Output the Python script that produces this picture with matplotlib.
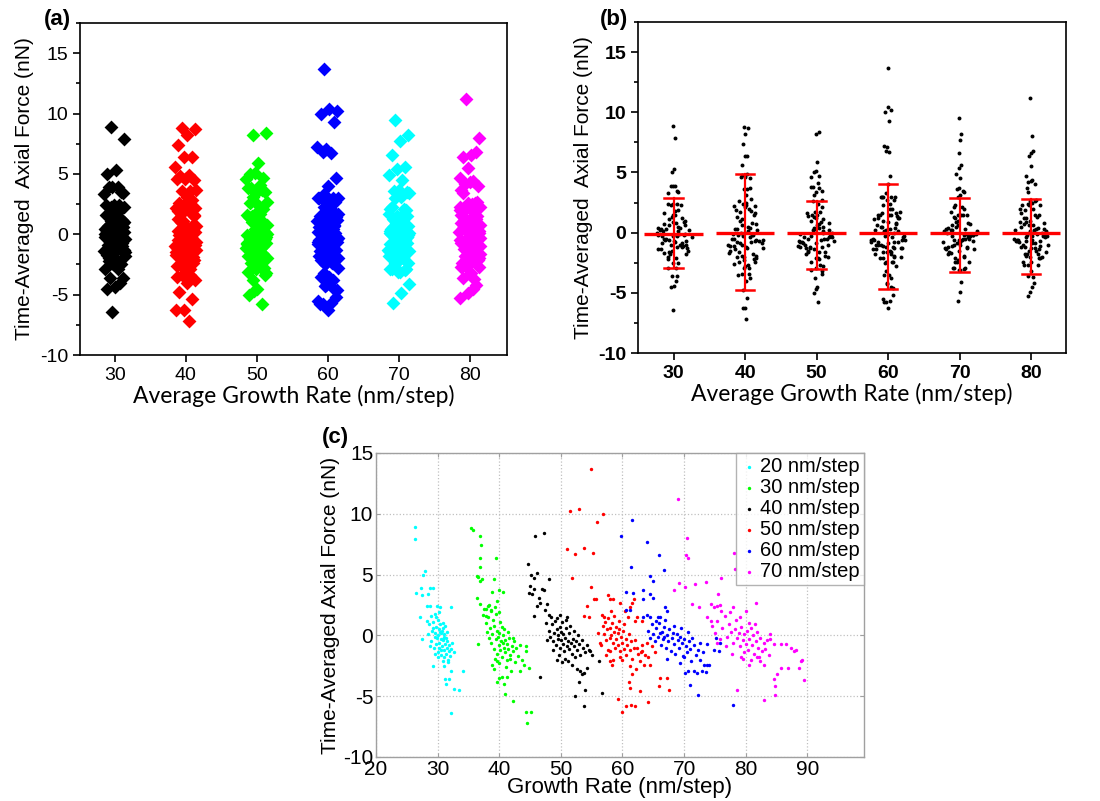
import numpy as np
import matplotlib
matplotlib.use("Agg")
from matplotlib import pyplot as plt
from matplotlib.ticker import MultipleLocator

plt.rcParams["axes.unicode_minus"] = False

# growth rate (x, panel c) and time-averaged axial force (y) for each imposed rate
x20 = [26.4, 26.3, 28.0, 27.7, 26.5, 27.3, 27.5, 28.7, 29.2, 28.4, 28.3, 28.8, 29.9, 30.4, 32.1, 27.1, 27.4,
       29.2, 31.0, 32.1, 34.1, 31.2, 31.8, 32.6, 33.4, 31.4, 32.1, 30.0, 30.9, 31.7,
       28.2, 28.6, 28.9, 29.1, 29.3, 29.5, 29.6, 29.8, 29.9, 30.0, 30.1, 30.2, 30.3, 30.4, 30.5, 30.6, 30.7,
       30.8, 30.9, 31.0, 31.1, 31.2, 31.3, 31.4, 31.5, 31.6, 31.8, 31.9, 32.0, 32.2, 32.4, 32.6, 28.5, 29.0,
       29.4, 29.7, 30.0, 30.3, 30.6, 30.9, 31.2, 28.8, 29.6, 30.2, 30.7, 31.0, 31.5, 29.2, 29.8, 30.4, 30.5,
       31.1, 29.5, 30.8, 31.7]
y20 = [8.9, 7.9, 5.3, 5.0, 3.5, 3.9, 3.3, 3.9, 3.9, 3.4, 2.4, 2.4, 2.4, 2.3, 2.3, 1.5, -0.3,
       -2.5, -2.5, -2.9, -2.9, -3.6, -3.6, -4.4, -4.5, -4.0, -6.4, -1.8, -2.1, -2.0,
       1.2, 0.9, 1.6, 0.4, 1.1, 0.2, 1.8, 0.7, -0.2, 1.3, 0.0, 0.5, -0.6, 0.9, -0.3, 0.2, -0.9,
       0.6, -0.4, -1.2, 0.1, -0.7, -1.5, -0.2, -1.0, -0.5, -1.3, -0.8, -1.7, -1.1, -0.6, -1.4, 0.1, -0.5,
       -1.0, 1.5, -1.4, 1.9, -1.6, 1.0, 0.8, -0.9, -0.1, -1.0, 0.4, -0.1, 0.3, 0.6, -0.7, 0.3, -1.2,
       -1.8, -1.5, -0.3, -2.2]

x30 = [35.4, 35.8, 36.9, 37.0, 36.8, 39.4, 36.9, 36.4, 36.6, 36.9, 37.2, 39.2, 38.8, 40.6, 39.9, 36.4,
       36.8, 39.7, 38.1, 37.9, 38.6, 37.3, 37.8, 39.3, 39.9, 36.5, 44.3, 44.4, 44.8, 43.7, 44.0, 43.4,
       39.9, 40.4, 41.2, 39.7, 40.7, 41.0, 42.2, 44.3, 45.1, 44.5, 38.9, 39.6, 39.1,
       38.0, 38.3, 38.5, 38.7, 38.9, 39.1, 39.2, 39.4, 39.6, 39.7, 39.9, 40.0, 40.2, 40.3, 40.5, 40.6,
       40.7, 40.9, 41.0, 41.2, 41.3, 41.5, 41.6, 41.8, 42.0, 42.2, 42.4, 42.6, 42.8, 43.0, 43.3, 37.8,
       38.2, 38.6, 39.0, 39.5, 40.1, 40.4, 40.8, 41.4, 39.3, 40.0, 41.1, 41.9, 42.3, 37.6, 38.4, 39.8,
       40.6, 41.7]
y30 = [8.8, 8.7, 8.2, 7.4, 6.4, 6.4, 5.6, 4.9, 4.8, 4.5, 4.6, 4.6, 3.6, 3.6, 3.7, 3.1,
       2.6, 2.8, 2.4, 2.2, 2.0, 1.7, 1.6, 2.3, 1.9, -0.7, -0.9, -1.3, -2.7, -2.0, -2.4, -2.9,
       -3.5, -3.4, -3.4, -3.8, -4.0, -4.8, -5.4, -6.3, -6.3, -7.2, -2.4, -2.1, -2.8,
       0.3, -0.2, 0.6, -0.6, 0.1, -1.1, 0.8, -0.3, -1.5, 0.4, -0.8, 0.2, -1.2, -0.5, -1.8, 0.0,
       -1.0, -0.4, -1.4, -0.7, -2.0, -1.1, -0.2, -1.6, -0.9, -1.3, -0.5, -2.2, -1.0, -1.7, -0.8, 1.0,
       1.5, 2.1, 1.3, 1.8, 1.1, 0.7, 0.5, 0.3, -1.9, -2.3, -2.6, -2.9, -0.2, 2.2, 2.5, -0.1,
       -0.6, -1.9]

x40 = [45.8, 47.2, 44.6, 45.1, 45.6, 46.1, 48.1, 45.0, 45.7, 44.9, 45.3, 46.9, 47.2, 46.4, 46.6, 46.1,
       47.7, 47.5, 48.0, 45.6, 49.9, 51.0, 46.6, 53.9, 52.3, 53.8, 56.6, 49.4, 50.2, 51.8, 52.6, 53.1,
       53.7, 54.2, 52.9, 53.4, 56.2, 54.8, 55.0,
       48.0, 48.3, 48.5, 48.7, 48.9, 49.0, 49.2, 49.3, 49.5, 49.6, 49.8, 49.9, 50.0, 50.1, 50.3, 50.4,
       50.5, 50.7, 50.8, 51.0, 51.1, 51.3, 51.4, 51.6, 51.8, 52.0, 52.1, 52.3, 52.5, 52.7, 52.9, 53.1,
       53.4, 53.6, 53.9, 54.2, 54.5, 47.6, 47.8, 48.4, 49.4, 50.2, 50.9, 51.5, 52.2, 49.7, 50.6, 51.2,
       48.8, 52.8]
y40 = [8.2, 8.4, 5.9, 5.0, 4.7, 5.1, 4.6, 4.1, 3.8, 3.5, 3.4, 3.8, 3.7, 3.1, 2.7, 2.4,
       2.6, 2.1, 1.7, 1.6, 1.7, 1.5, -3.4, -4.5, -5.0, -5.8, -4.7, -2.0, -2.2, -2.4, -2.8, -2.9,
       -3.1, -2.7, -3.8, -3.2, -2.1, -1.3, -1.6,
       0.4, -0.1, 0.9, -0.5, 0.2, 1.2, -0.8, 0.5, -0.3, 0.0, 0.7, -1.0, -0.4, 0.3, -0.7, 0.1,
       -1.3, -0.2, 0.6, -0.9, -0.5, 0.2, -1.1, -0.6, -1.5, -0.3, -0.9, -1.8, -0.5, -1.2, -0.7, -1.6,
       -0.4, -1.0, -1.4, -0.8, -1.2, 1.0, -0.4, 1.5, 1.4, 1.1, 1.3, 0.8, 0.4, -1.6, -1.9, -2.1,
       -1.2, 0.0]

x50 = [54.9, 51.5, 52.9, 56.8, 55.9, 51.0, 53.8, 52.3, 55.2, 51.8, 54.9, 55.3, 55.7, 57.7, 58.0, 54.2,
       54.5, 53.8, 56.1, 56.4, 58.0, 57.9, 59.2, 59.9, 60.6, 61.0, 61.2, 56.6, 57.0, 62.3, 63.1, 63.7,
       64.2, 64.5, 61.5, 62.9, 66.1, 67.2, 67.5, 65.9, 64.1, 61.4, 62.1, 64.0, 64.8, 65.3, 58.3, 57.4,
       58.5, 59.6, 58.5, 59.6, 61.5, 61.8, 60.4, 61.2, 62.1, 62.3, 63.1,
       56.8, 57.0, 57.2, 57.4, 57.5, 57.7, 57.9, 58.0, 58.2, 58.3, 58.5, 58.6, 58.8, 58.9, 59.0, 59.2,
       59.3, 59.5, 59.6, 59.8, 60.0, 60.1, 60.3, 60.5, 60.6, 60.8, 61.0, 61.2, 61.4, 61.6, 61.8, 62.0,
       62.5, 62.8, 63.2, 63.5, 56.5, 57.6, 58.7, 59.4, 60.2, 60.9, 59.9, 61.3, 62.2, 58.1, 63.0]
y50 = [13.7, 10.2, 10.4, 10.0, 9.3, 7.1, 7.2, 6.7, 6.8, 4.7, 4.0, 3.0, 3.0, 3.3, 3.0, 2.4,
       1.5, 1.6, 0.2, -0.6, -1.3, -2.1, -5.2, -6.3, -5.8, -3.8, -4.3, 1.7, 1.5, -1.0, -1.3, -1.6,
       -1.8, -2.4, -3.2, -4.6, -3.5, -3.5, -4.5, -4.2, -5.5, -5.7, -5.8, -0.6, -0.9, -1.4, -2.4, -1.6,
       -2.0, -1.8, 3.0, 2.7, 2.7, 3.0, 2.0, 2.3, 1.2, 1.5, 1.2,
       0.8, 0.1, 1.1, -0.4, 0.5, 1.4, -0.2, 0.6, 0.0, 1.0, -0.6, 0.3, -1.0, 0.7, -0.3, 0.2,
       -0.8, 0.5, -1.3, -0.1, -0.6, 0.4, -1.1, -0.3, -1.6, -0.8, 0.1, -1.2, -0.5, -1.9, -1.0, -0.4,
       -1.5, -2.1, -0.8, -2.4, -0.8, -1.2, 1.6, 1.2, 0.9, 1.5, -2.0, -2.5, -2.8, 2.0, -1.4]

x60 = [61.5, 59.7, 64.0, 65.9, 61.4, 66.7, 64.5, 65.0, 60.6, 61.7, 63.3, 60.6, 61.2, 63.4, 64.5, 65.0,
       66.9, 67.2, 63.4, 64.0, 64.5, 65.5, 66.1, 73.7, 74.8, 75.6, 73.7, 71.0, 72.2, 78.0, 70.7, 70.2,
       71.6, 72.6, 73.2, 74.0, 72.1, 72.9, 73.5, 69.4, 70.0, 66.7, 66.1, 75.1, 75.9,
       64.2, 64.5, 64.8, 65.0, 65.3, 65.5, 65.8, 66.0, 66.2, 66.4, 66.6, 66.8, 67.0, 67.2, 67.4, 67.6,
       67.8, 68.0, 68.2, 68.4, 68.6, 68.8, 69.0, 69.2, 69.4, 69.6, 69.8, 70.0, 70.3, 70.5, 70.8, 71.0,
       71.3, 71.6, 71.9, 72.2, 72.6, 73.0, 65.7, 66.9, 68.3, 69.5, 70.6, 67.3, 71.1]
y60 = [9.5, 8.2, 7.7, 6.6, 5.6, 5.4, 4.9, 4.5, 3.6, 3.5, 3.7, 2.1, 2.1, 3.0, 3.4, 3.1,
       2.3, 2.0, 1.5, 1.7, 1.5, 1.2, 1.5, -0.7, -1.2, -1.3, -2.4, -4.1, -4.9, -5.7, -2.9, -3.1,
       -2.9, -2.0, -2.4, -2.4, -3.1, -2.9, -3.0, -2.3, -1.8, -0.1, 0.2, -0.2, -0.6,
       0.4, -0.2, 0.9, 0.1, -0.5, 0.6, -0.1, 1.0, -0.8, 0.3, -0.3, 0.7, -1.0, 0.0, -0.5, 0.5,
       -1.3, -0.2, 0.2, -0.7, -1.5, 0.1, -0.4, -1.0, -0.1, -0.6, -1.7, -0.3, -0.9, -1.4, -0.5, -1.1,
       -0.2, -0.8, -1.6, -1.2, -0.6, -1.4, 1.5, 1.3, 0.8, 0.6, 0.3, -1.9, -2.1]

x70 = [69.0, 70.4, 70.3, 70.7, 78.1, 78.2, 76.0, 73.6, 71.8, 70.2, 69.1, 68.3, 74.3, 75.4, 74.8, 75.8,
       75.5, 81.6, 71.3, 72.5, 73.7, 74.3, 84.0, 83.9, 84.6, 85.7, 86.5, 87.3, 87.8, 88.1, 88.9, 89.2,
       88.6, 89.4, 85.7, 86.8, 85.1, 84.6, 84.7, 84.7, 83.0, 78.6, 81.9, 82.4, 83.0, 80.5, 79.7, 79.2,
       74.5, 75.0, 75.4, 75.8, 76.2, 76.6, 77.0, 77.3, 77.6, 77.9, 78.2, 78.4, 78.6, 78.9, 79.1, 79.3,
       79.5, 79.8, 80.0, 80.2, 80.4, 80.6, 80.8, 81.0, 81.2, 81.4, 81.6, 81.8, 82.0, 82.3, 82.6, 82.9,
       83.2, 83.5, 83.8, 76.0, 77.5, 79.0, 80.5, 81.5, 77.8, 79.6, 80.9, 76.8, 75.3, 82.1, 78.0, 80.1]
y70 = [11.2, 8.0, 6.6, 6.4, 6.8, 5.5, 4.7, 4.4, 4.2, 4.0, 4.3, 3.7, 2.6, 2.4, 2.3, 2.5,
       3.4, 2.7, 2.6, 2.3, 1.5, 1.2, 0.1, -0.3, -0.7, -0.7, -0.7, -1.0, -1.3, -1.2, -2.1, -2.0,
       -2.7, -3.7, -2.7, -2.7, -3.2, -3.6, -4.2, -4.9, -5.3, -4.5, -1.8, -2.1, -2.4, -2.4, -1.4, -1.8,
       0.8, 0.2, 1.2, -0.3, 0.6, 1.6, -0.1, 0.9, 0.3, -0.6, 0.5, 1.3, -0.2, 0.2, -0.9, 0.7,
       -0.4, 0.1, -0.7, 0.4, -1.2, -0.3, 0.6, -0.8, 0.0, -1.5, -0.5, 0.3, -1.0, -0.2, -1.3, -0.6,
       -1.1, -0.4, -1.6, 2.0, 1.9, 1.5, 1.0, 0.9, -1.5, -1.9, -2.0, -0.9, -0.6, -1.8, 2.3, 2.0]

rates = [30, 40, 50, 60, 70, 80]
legend_labels = ["20 nm/step", "30 nm/step", "40 nm/step", "50 nm/step", "60 nm/step", "70 nm/step"]
xs = [x20, x30, x40, x50, x60, x70]
ys = [y20, y30, y40, y50, y60, y70]

# panel (b) mean line and error bar ends
means = [-0.1, 0.0, 0.0, 0.0, 0.0, 0.0]
err_hi = [2.9, 4.9, 2.6, 4.0, 2.9, 2.8]
err_lo = [-2.9, -4.8, -3.0, -4.7, -3.3, -3.4]

colors_a = ["black", "red", "#00ff00", "blue", "cyan", "magenta"]
colors_c = ["cyan", "#00ff00", "black", "red", "blue", "magenta"]


def spread(vals, width, density=False):
    # deterministic horizontal scatter (golden ratio sequence), wider where points pile up
    vals = np.asarray(vals)
    n = len(vals)
    off = ((np.arange(n) * 0.618034 + 0.3) % 1.0 - 0.5) * 2 * width
    if density:
        counts = np.array([np.sum(np.abs(vals - v) < 0.8) for v in vals], dtype=float)
        off = off * (counts / counts.max()) ** 0.8
    return off


fig = plt.figure(figsize=(11, 8.01), dpi=100)

label_font = "Lato"
arial = "Liberation Sans"

# ---------- (a)
ax1 = fig.add_axes([80 / 1100, 1 - 355 / 801, 427 / 1100, 332 / 801])
for rate, y, c in zip(rates, ys, colors_a):
    ax1.scatter(rate + spread(y, 1.5), y, marker="D", s=50, color=c, linewidths=0, zorder=3)
ax1.set_xlim(25.1, 85.2)
ax1.set_ylim(-10, 17.5)

# ---------- (b)
ax2 = fig.add_axes([638 / 1100, 1 - 353 / 801, 428 / 1100, 331 / 801])
for rate, y in zip(rates, ys):
    ax2.scatter(rate + spread(y, 2.7, density=True), y, marker="o", s=8, color="black",
                linewidths=0, zorder=3)
for rate, m, hi, lo in zip(rates, means, err_hi, err_lo):
    ax2.plot([rate - 4.1, rate + 4.1], [m, m], color="red", lw=2.4, zorder=4, solid_capstyle="butt")
    ax2.plot([rate, rate], [lo, hi], color="red", lw=1.6, zorder=4)
    ax2.plot([rate - 1.3, rate + 1.3], [hi, hi], color="red", lw=1.8, zorder=4)
    ax2.plot([rate - 1.3, rate + 1.3], [lo, lo], color="red", lw=1.8, zorder=4)
ax2.set_xlim(25.0, 84.9)
ax2.set_ylim(-10, 17.5)

for ax, bold in ((ax1, False), (ax2, True)):
    ax.set_xticks(rates)
    ax.yaxis.set_major_locator(MultipleLocator(5))
    ax.yaxis.set_minor_locator(MultipleLocator(2.5))
    ax.set_yticks(np.arange(-10, 16, 5))
    ax.tick_params(axis="both", which="major", direction="out", length=5, width=1.2,
                   labelsize=14, top=False, right=False)
    ax.tick_params(axis="y", which="minor", direction="out", length=3, width=1.2)
    for lab in ax.get_xticklabels() + ax.get_yticklabels():
        lab.set_family(arial)
        if bold:
            lab.set_fontweight("bold")
    for sp in ax.spines.values():
        sp.set_linewidth(1.2)
    ax.set_xlabel("Average Growth Rate (nm/step)", family=label_font, fontsize=16.5, labelpad=1)
    ax.set_ylabel("Time-Averaged  Axial Force (nN)", family=arial, fontsize=15, labelpad=4)

fig.text(44 / 1100, 1 - 20 / 801, "(a)", family=arial, fontsize=16, fontweight="bold", va="center")
fig.text(600 / 1100, 1 - 20 / 801, "(b)", family=arial, fontsize=16, fontweight="bold", va="center")

# ---------- (c)
ax3 = fig.add_axes([376 / 1100, 1 - 757 / 801, 488 / 1100, 304 / 801])
for x, y, c, lab in zip(xs, ys, colors_c, legend_labels):
    ax3.scatter(x, y, marker="o", s=6, color=c, linewidths=0, label=lab, zorder=3)
ax3.set_xlim(20, 99.2)
ax3.set_ylim(-10, 15)
ax3.set_xticks(np.arange(20, 91, 10))
ax3.set_yticks(np.arange(-10, 16, 5))
ax3.grid(True, linestyle=":", color="#c0c0c0", linewidth=0.9)
ax3.set_axisbelow(True)
for sp in ax3.spines.values():
    sp.set_color("#a0a0a0")
    sp.set_linewidth(1.0)
ax3.tick_params(direction="in", length=3, color="#a0a0a0", labelsize=15, pad=2,
                top=True, right=True)
for lab in ax3.get_xticklabels() + ax3.get_yticklabels():
    lab.set_family(arial)
ax3.set_xlabel("Growth Rate (nm/step)", family=arial, fontsize=16, labelpad=-1)
ax3.set_ylabel("Time-Averaged Axial Force (nN)", family=arial, fontsize=15, labelpad=2)
leg = ax3.legend(loc="upper right", borderaxespad=0, fancybox=False, edgecolor="#a0a0a0",
                 prop={"family": arial, "size": 14.5}, handletextpad=0.1, borderpad=0.2,
                 labelspacing=0.1, markerscale=1.0, handlelength=0.9)
leg.get_frame().set_linewidth(1.0)
fig.text(322 / 1100, 1 - 438 / 801, "(c)", family=arial, fontsize=16, fontweight="bold", va="center")

fig.savefig("out.png", dpi=100)
